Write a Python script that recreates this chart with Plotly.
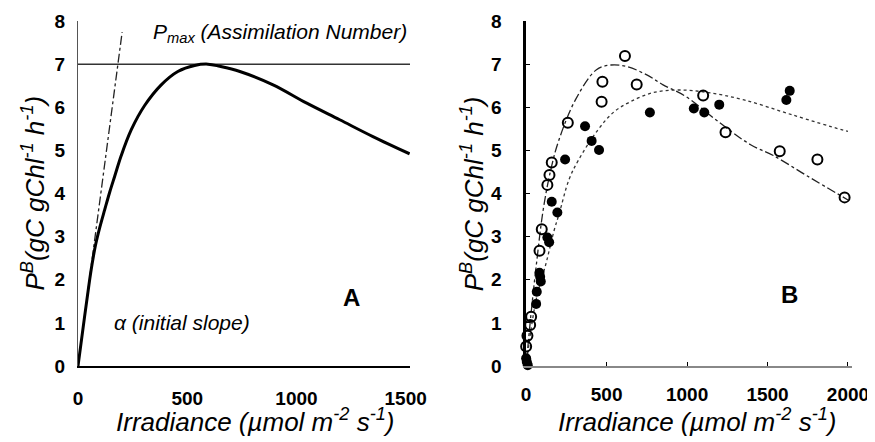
import plotly.graph_objects as go

# Panel A: photosynthesis-irradiance model curve
a_irr = [0, 30, 50, 65, 80, 100, 122, 145, 168, 198, 244, 305, 381, 457, 534, 595, 649, 741, 893, 1045, 1198, 1350, 1518]
a_pb = [0, 1.14, 1.88, 2.38, 2.80, 3.22, 3.62, 4.03, 4.40, 4.88, 5.48, 6.04, 6.52, 6.83, 6.97, 7.0, 6.95, 6.83, 6.52, 6.10, 5.71, 5.32, 4.92]
slope_irr = [0, 202]
slope_pb = [0, 7.74]
pmax_irr = [0, 1520]
pmax_pb = [7, 7]

# Panel B: measured points
open_irr = [614, 474, 469, 687, 259, 159, 145, 132, 97, 83, 31, 25, 8, 0, 1100, 1239, 1576, 1810, 1979]
open_pb = [7.19, 6.59, 6.13, 6.53, 5.64, 4.72, 4.43, 4.20, 3.17, 2.67, 1.14, 0.95, 0.70, 0.45, 6.27, 5.42, 4.98, 4.79, 3.91]
fill_irr = [769, 1042, 1107, 1200, 1617, 1638, 366, 407, 453, 242, 159, 194, 132, 143, 83, 87, 91, 66, 62, 0, 4, 10]
fill_pb = [5.88, 5.97, 5.88, 6.06, 6.17, 6.38, 5.56, 5.22, 5.01, 4.79, 3.81, 3.56, 2.98, 2.87, 2.16, 2.07, 1.96, 1.72, 1.44, 0.18, 0.10, 0.02]

# Panel B: fitted curves
fit1_irr = [0, 30, 65, 105, 150, 200, 306, 437, 527, 629, 750, 851, 992, 1193, 1395, 1536, 1750, 2000]
fit1_pb = [0, 1.2, 2.4, 3.6, 4.5, 5.2, 6.17, 6.87, 6.98, 6.94, 6.75, 6.52, 6.25, 5.67, 5.13, 4.88, 4.40, 3.85]
fit2_irr = [0, 60, 125, 175, 206, 266, 326, 447, 548, 649, 790, 951, 1133, 1354, 1657, 1959, 2000]
fit2_pb = [0, 1.5, 2.4, 3.16, 3.54, 4.32, 4.78, 5.48, 5.90, 6.13, 6.34, 6.40, 6.34, 6.17, 5.82, 5.48, 5.44]

FONT = "Liberation Sans, Arial, sans-serif"

fig = go.Figure()

# ---- panel A
fig.add_trace(go.Scatter(x=pmax_irr, y=pmax_pb, mode="lines", cliponaxis=False,
                         line=dict(color="#333", width=1.5), xaxis="x", yaxis="y"))
fig.add_trace(go.Scatter(x=slope_irr, y=slope_pb, mode="lines",
                         line=dict(color="#222", width=1.3, dash="dashdot"), xaxis="x", yaxis="y"))
fig.add_trace(go.Scatter(x=a_irr, y=a_pb, mode="lines", line_shape="spline",
                         line=dict(color="black", width=3), xaxis="x", yaxis="y"))

# ---- panel B
fig.add_trace(go.Scatter(x=fit1_irr, y=fit1_pb, mode="lines", line_shape="spline",
                         line=dict(color="#222", width=1.3, dash="dashdot"), xaxis="x2", yaxis="y2"))
fig.add_trace(go.Scatter(x=fit2_irr, y=fit2_pb, mode="lines", line_shape="spline",
                         line=dict(color="#333", width=1.3, dash="dot"), xaxis="x2", yaxis="y2"))
fig.add_trace(go.Scatter(x=open_irr, y=open_pb, mode="markers", cliponaxis=False,
                         marker=dict(symbol="circle-open", size=10, color="black", line=dict(width=2)),
                         xaxis="x2", yaxis="y2"))
fig.add_trace(go.Scatter(x=fill_irr, y=fill_pb, mode="markers", cliponaxis=False,
                         marker=dict(symbol="circle", size=10, color="black"),
                         xaxis="x2", yaxis="y2"))

tickfont = dict(family=FONT, size=19, color="black", weight="bold")
title_font = dict(family=FONT, size=26, color="black", style="italic")
note_font = dict(family=FONT, size=21, color="black", style="italic")

axis_common = dict(showgrid=False, zeroline=False, tickfont=tickfont, fixedrange=True, automargin=False)

# the page adds an 8px body margin, so the figure is 8px smaller than the window
fig.update_layout(
    width=867, height=434,
    margin=dict(l=70, r=23, t=13, b=76),
    paper_bgcolor="white", plot_bgcolor="white",
    showlegend=False,
    xaxis=dict(domain=[0, 0.429], range=[0, 1520], tickvals=[0, 500, 1000, 1500],
               showline=True, linecolor="black", linewidth=1.5, ticks="",
               ticklabelstandoff=14, anchor="y", **axis_common),
    yaxis=dict(domain=[0, 1], range=[0, 8], dtick=1,
               showline=True, linecolor="#555", linewidth=1, ticks="",
               ticklabelstandoff=8, anchor="x", **axis_common),
    xaxis2=dict(domain=[0.579, 1], range=[0, 2025], tickvals=[0, 500, 1000, 1500, 2000],
                showline=True, linecolor="#888", linewidth=1.5, ticks="inside", ticklen=4,
                tickcolor="black", ticklabelstandoff=10, anchor="y2", **axis_common),
    yaxis2=dict(domain=[0, 1], range=[0, 8], dtick=1,
                showline=True, linecolor="black", linewidth=2.5, ticks="inside", ticklen=4,
                tickcolor="black", ticklabelstandoff=18, anchor="x2", **axis_common),
)

ytitle = "P<sup>B</sup>(gC gChl<sup>-1</sup> h<sup>-1</sup>)"
xtitle = "Irradiance (µmol m<sup>-2</sup> s<sup>-1</sup>)"

annotations = [
    dict(x=-0.058, y=0.5, xref="paper", yref="paper", text=ytitle, textangle=-90,
         xanchor="center", yanchor="middle", showarrow=False, font=title_font),
    dict(x=0.510, y=0.5, xref="paper", yref="paper", text=ytitle, textangle=-90,
         xanchor="center", yanchor="middle", showarrow=False, font=title_font),
    dict(x=0.229, y=-0.157, xref="paper", yref="paper", text=xtitle,
         xanchor="center", yanchor="middle", showarrow=False, font=title_font),
    dict(x=0.80, y=-0.157, xref="paper", yref="paper", text=xtitle,
         xanchor="center", yanchor="middle", showarrow=False, font=title_font),
    dict(x=1515, y=7.72, xref="x", yref="y", xanchor="right", text="P<sub>max</sub> (Assimilation Number)",
         showarrow=False, font=note_font),
    dict(x=155, y=1.0, xref="x", yref="y", xanchor="left", text="α (initial slope)",
         showarrow=False, font=note_font),
    dict(x=1253, y=1.58, xref="x", yref="y", text="A", showarrow=False,
         font=dict(family=FONT, size=24, color="black", weight="bold")),
    dict(x=1638, y=1.65, xref="x2", yref="y2", text="B", showarrow=False,
         font=dict(family=FONT, size=24, color="black", weight="bold")),
]
fig.update_layout(annotations=annotations)

fig.write_html("out.html")
